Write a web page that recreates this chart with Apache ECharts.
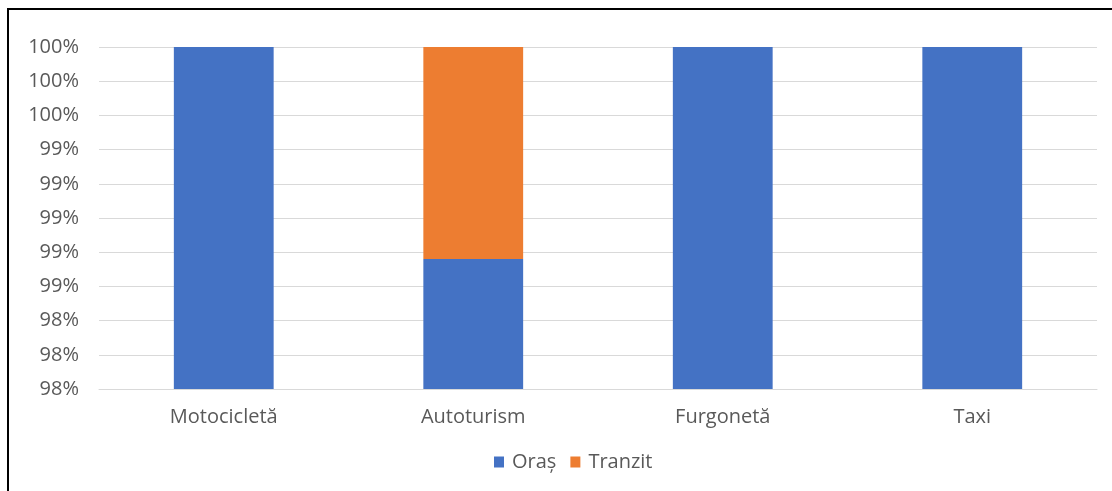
<!DOCTYPE html>
<html>
<head>
<meta charset="utf-8">
<script src="https://cdn.jsdelivr.net/npm/echarts@6/dist/echarts.min.js"></script>
<style>
  html, body { margin: 0; padding: 0; background: #fff; }
  #chart { width: 1112px; height: 491px; }
</style>
</head>
<body>
<div id="chart"></div>
<script>
// Vehicle categories and the share of each route type
const categories = ['Motocicletă', 'Autoturism', 'Furgonetă', 'Taxi'];
const seriesNames = ['Oraș', 'Tranzit'];
const orasValues = [1.0, 0.9876, 1.0, 1.0];
const tranzitValues = [0, 0.0124, 0, 0];
const seriesColors = ['#4472C4', '#ED7D31'];

const FONT = '"Open Sans", sans-serif';
const TEXT = '#595959';
const chart = echarts.init(document.getElementById('chart'), null, { renderer: 'canvas' });

chart.setOption({
  animation: false,
  backgroundColor: '#fff',
  textStyle: { fontFamily: FONT },
  graphic: [{
    type: 'rect',
    shape: { x: 8, y: 9, width: 1200, height: 600 },
    style: { fill: 'none', stroke: '#000', lineWidth: 2 },
    silent: true,
    z: 100
  }],
  grid: { left: 99, right: 15, top: 47, bottom: 102, containLabel: false },
  legend: {
    top: 447,
    left: 489,
    itemWidth: 10,
    itemHeight: 11,
    itemGap: 14,
    icon: 'rect',
    textStyle: { color: TEXT, fontSize: 20, fontFamily: FONT, padding: [0, 0, 0, 3] },
    data: seriesNames
  },
  xAxis: {
    type: 'category',
    data: categories,
    axisLine: { show: true, lineStyle: { color: '#d9d9d9', width: 1 } },
    axisTick: { show: false },
    axisLabel: { color: TEXT, fontSize: 20, fontFamily: FONT, margin: 18 }
  },
  yAxis: {
    type: 'value',
    min: 0.98,
    max: 1.0,
    interval: 0.002,
    axisLine: { show: false },
    axisTick: { show: false },
    splitLine: { lineStyle: { color: '#d9d9d9', width: 1 } },
    axisLabel: {
      color: TEXT,
      fontSize: 20,
      fontFamily: FONT,
      margin: 20,
      formatter: v => Math.round(v * 100) + '%'
    }
  },
  series: [
    {
      name: seriesNames[0],
      type: 'bar',
      stack: 'total',
      barWidth: '40%',
      data: orasValues,
      itemStyle: { color: seriesColors[0] }
    },
    {
      name: seriesNames[1],
      type: 'bar',
      stack: 'total',
      barWidth: '40%',
      data: tranzitValues,
      itemStyle: { color: seriesColors[1] }
    }
  ]
});
</script>
</body>
</html>
